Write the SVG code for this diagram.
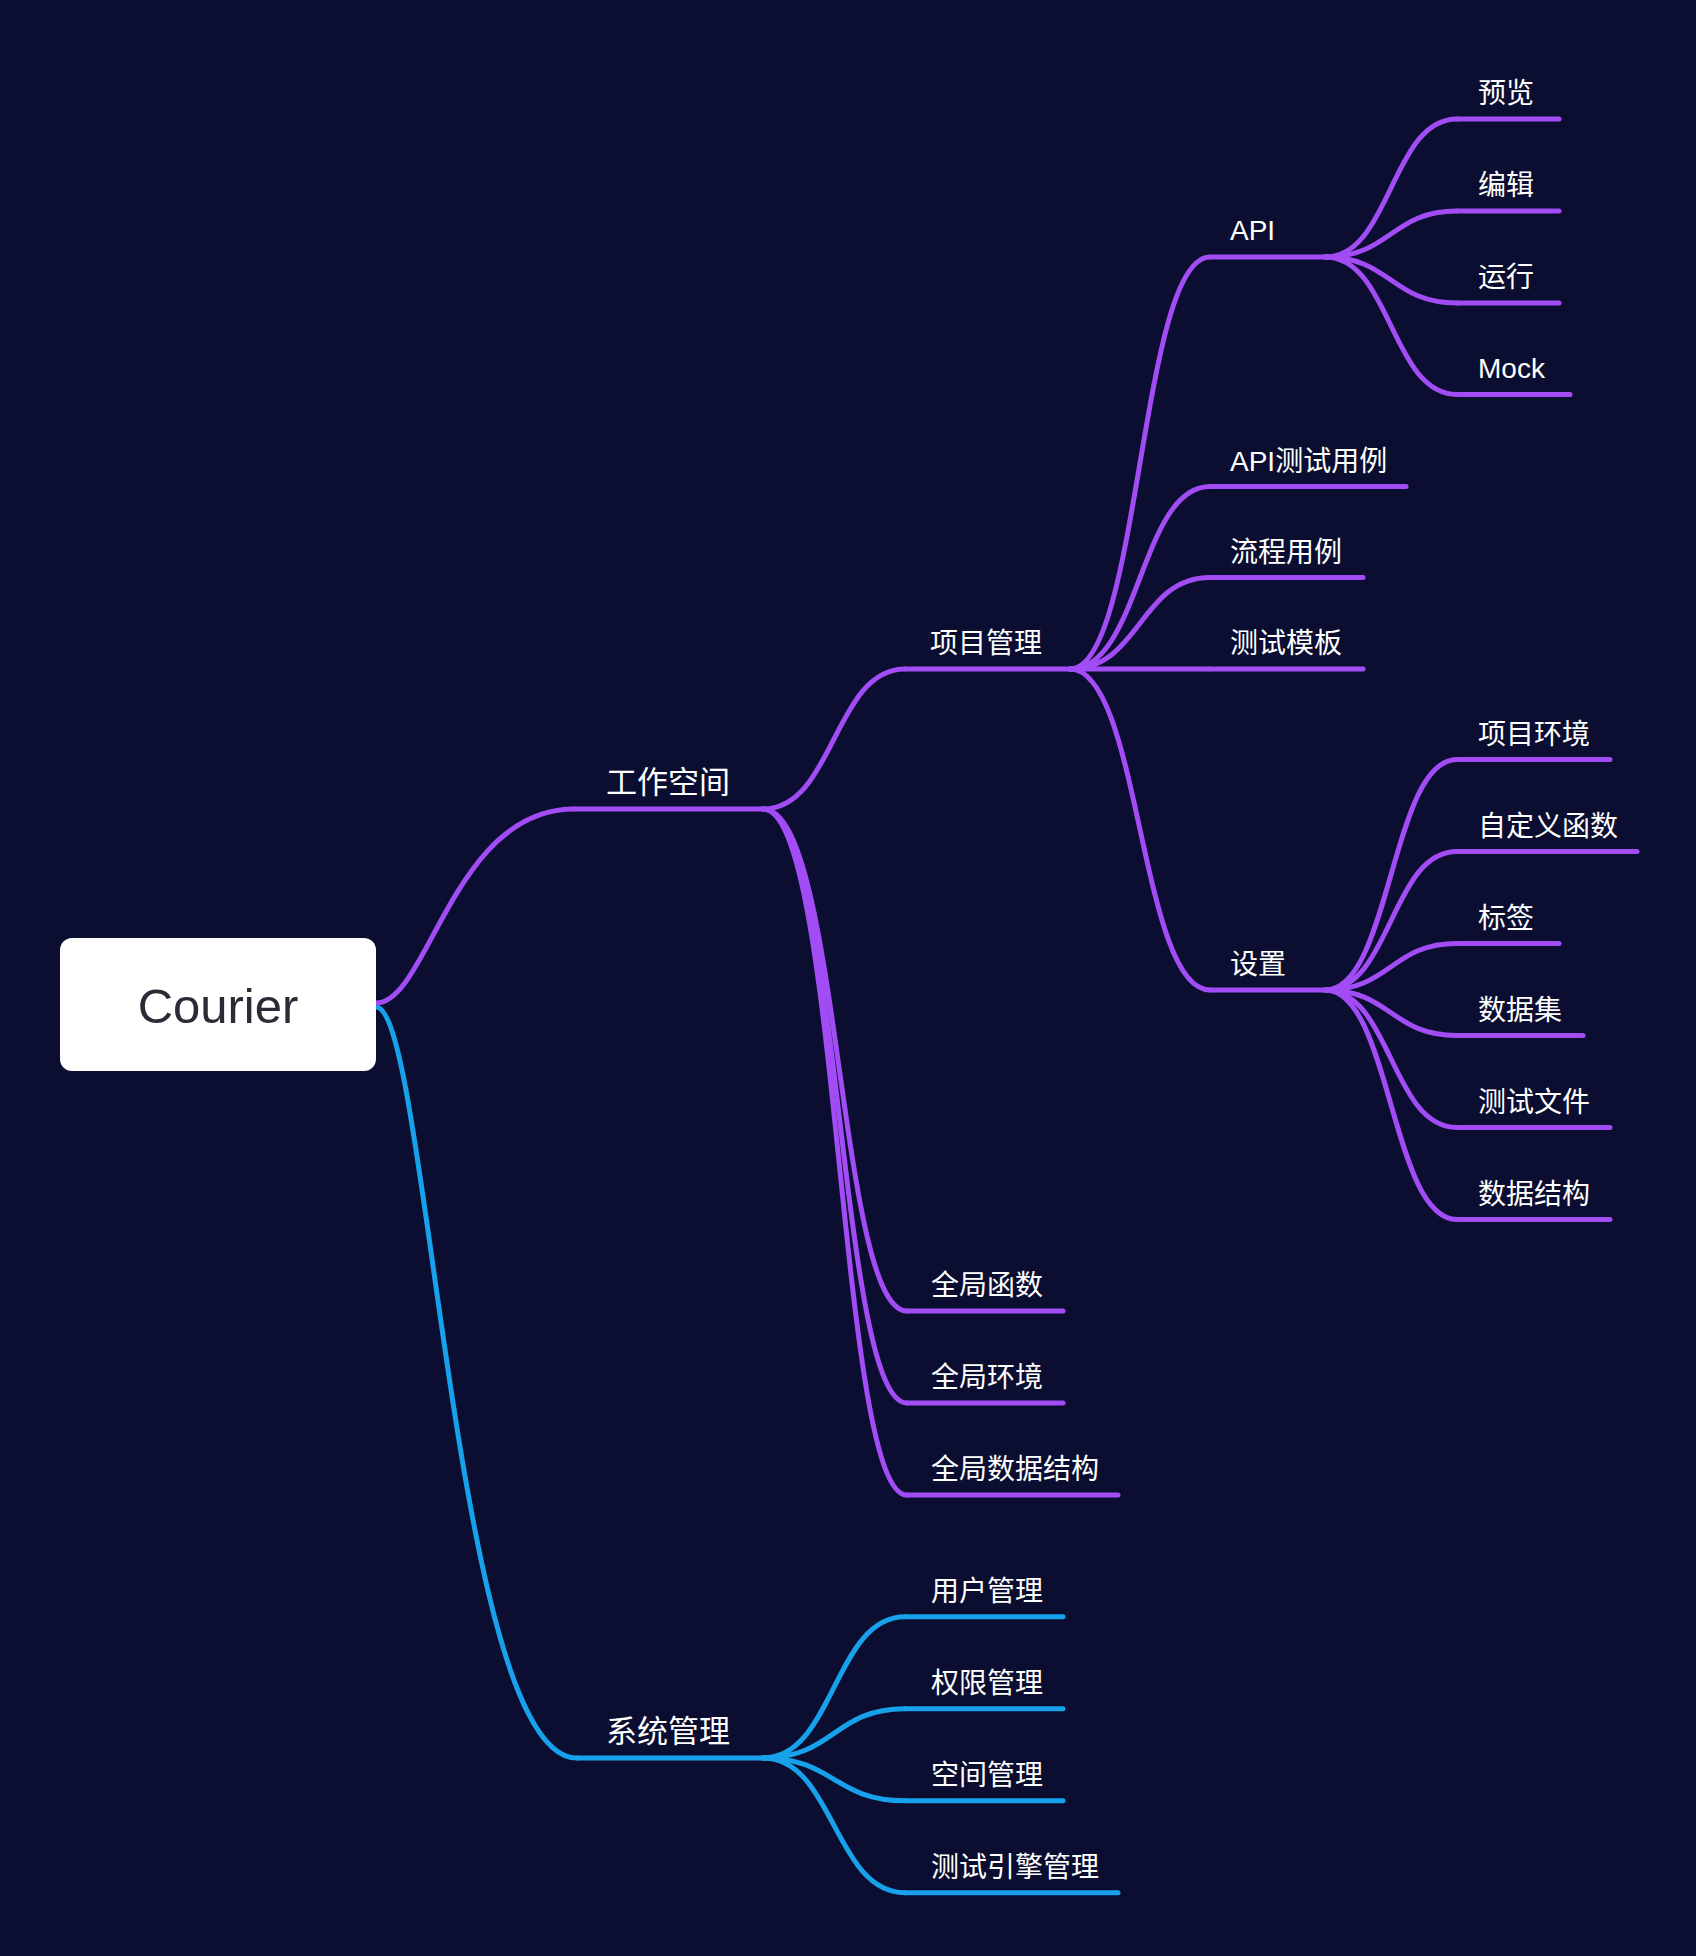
<svg xmlns="http://www.w3.org/2000/svg" width="1696" height="1956" viewBox="0 0 1696 1956">
<style>
.bg{fill:#0b0e30}
.c{fill:none;stroke-width:5;stroke-linecap:round}
.p{stroke:#a14cf4}
.b{stroke:#16a1ea}
.u{stroke-width:5;stroke-linecap:round}
.t{fill:#ffffff;font-family:"Liberation Sans","Noto Sans CJK SC",sans-serif;font-size:28px}
.t1{font-size:31px}
.root{fill:#2a2b36;font-family:"Liberation Sans","Noto Sans CJK SC",sans-serif;font-size:49px}
</style>
<rect class="bg" x="0" y="0" width="1696" height="1956"/>
<g id="connectors">
<path class="c b" d="M376,1007 C428,1007 454,1758 577,1758"/>
<path class="c p" d="M376,1003 C428,1003 453,809 574,809"/>
<path class="c p" d="M763,809 C834,809 834,669 905,669"/>
<path class="c p" d="M763,809 C840,809 838,1311 907,1311"/>
<path class="c p" d="M763,809 C840,809 838,1403 907,1403"/>
<path class="c p" d="M763,809 C840,809 838,1495 907,1495"/>
<path class="c p" d="M1070,669 C1140,669 1140,257 1210,257"/>
<path class="c p" d="M1070,669 C1140,669 1140,486.5 1210,486.5"/>
<path class="c p" d="M1070,669 C1140,669 1140,577.5 1210,577.5"/>
<path class="c p" d="M1070,669 L1210,669"/>
<path class="c p" d="M1070,669 C1140,669 1140,990 1210,990"/>
<path class="c p" d="M1325,257 C1391,257 1391,119 1457,119"/>
<path class="c p" d="M1325,257 C1391,257 1391,211 1457,211"/>
<path class="c p" d="M1325,257 C1391,257 1391,303 1457,303"/>
<path class="c p" d="M1325,257 C1391,257 1391,394.5 1457,394.5"/>
<path class="c p" d="M1325,990 C1391,990 1391,759.5 1457,759.5"/>
<path class="c p" d="M1325,990 C1391,990 1391,851.5 1457,851.5"/>
<path class="c p" d="M1325,990 C1391,990 1391,943.5 1457,943.5"/>
<path class="c p" d="M1325,990 C1391,990 1391,1035.5 1457,1035.5"/>
<path class="c p" d="M1325,990 C1391,990 1391,1127.5 1457,1127.5"/>
<path class="c p" d="M1325,990 C1391,990 1391,1219.5 1457,1219.5"/>
<path class="c b" d="M763,1758 C834,1758 834,1616.7 905,1616.7"/>
<path class="c b" d="M763,1758 C834,1758 834,1708.7 905,1708.7"/>
<path class="c b" d="M763,1758 C834,1758 834,1800.7 905,1800.7"/>
<path class="c b" d="M763,1758 C834,1758 834,1892.7 905,1892.7"/>
</g>
<g id="node-root">
<rect x="60" y="938" width="316" height="133" rx="12" ry="12" fill="#ffffff"/>
<text class="root" x="218" y="1023" text-anchor="middle">Courier</text>
</g>
<g id="node-workspace"><line class="u p" x1="574" y1="809" x2="763" y2="809"/><text class="t t1" x="606" y="793">工作空间</text></g>
<g id="node-system"><line class="u b" x1="577" y1="1758" x2="763" y2="1758"/><text class="t t1" x="606" y="1742">系统管理</text></g>
<g id="node-project"><line class="u p" x1="905" y1="669" x2="1070" y2="669"/><text class="t" x="930" y="653">项目管理</text></g>
<g id="node-gfunc"><line class="u p" x1="907" y1="1311" x2="1063" y2="1311"/><text class="t" x="931" y="1295">全局函数</text></g>
<g id="node-genv"><line class="u p" x1="907" y1="1403" x2="1063" y2="1403"/><text class="t" x="931" y="1387">全局环境</text></g>
<g id="node-gds"><line class="u p" x1="907" y1="1495" x2="1118" y2="1495"/><text class="t" x="931" y="1479">全局数据结构</text></g>
<g id="node-api"><line class="u p" x1="1210" y1="257" x2="1325" y2="257"/><text class="t" x="1230" y="240">API</text></g>
<g id="node-apicase"><line class="u p" x1="1210" y1="486.5" x2="1406" y2="486.5"/><text class="t" x="1230" y="470.5">API测试用例</text></g>
<g id="node-flow"><line class="u p" x1="1210" y1="577.5" x2="1363" y2="577.5"/><text class="t" x="1230" y="561.5">流程用例</text></g>
<g id="node-template"><line class="u p" x1="1210" y1="669" x2="1363" y2="669"/><text class="t" x="1230" y="653">测试模板</text></g>
<g id="node-settings"><line class="u p" x1="1210" y1="990" x2="1325" y2="990"/><text class="t" x="1230" y="974">设置</text></g>
<g id="node-preview"><line class="u p" x1="1457" y1="119" x2="1559" y2="119"/><text class="t" x="1478" y="103">预览</text></g>
<g id="node-edit"><line class="u p" x1="1457" y1="211" x2="1559" y2="211"/><text class="t" x="1478" y="195">编辑</text></g>
<g id="node-run"><line class="u p" x1="1457" y1="303" x2="1559" y2="303"/><text class="t" x="1478" y="287">运行</text></g>
<g id="node-mock"><line class="u p" x1="1457" y1="394.5" x2="1570" y2="394.5"/><text class="t" x="1478" y="377.5">Mock</text></g>
<g id="node-penv"><line class="u p" x1="1457" y1="759.5" x2="1610" y2="759.5"/><text class="t" x="1478" y="743.5">项目环境</text></g>
<g id="node-cfunc"><line class="u p" x1="1457" y1="851.5" x2="1637" y2="851.5"/><text class="t" x="1478" y="835.5">自定义函数</text></g>
<g id="node-tag"><line class="u p" x1="1457" y1="943.5" x2="1559" y2="943.5"/><text class="t" x="1478" y="927.5">标签</text></g>
<g id="node-dataset"><line class="u p" x1="1457" y1="1035.5" x2="1583" y2="1035.5"/><text class="t" x="1478" y="1019.5">数据集</text></g>
<g id="node-testfile"><line class="u p" x1="1457" y1="1127.5" x2="1610" y2="1127.5"/><text class="t" x="1478" y="1111.5">测试文件</text></g>
<g id="node-datastruct"><line class="u p" x1="1457" y1="1219.5" x2="1610" y2="1219.5"/><text class="t" x="1478" y="1203.5">数据结构</text></g>
<g id="node-user"><line class="u b" x1="905" y1="1616.7" x2="1063" y2="1616.7"/><text class="t" x="931" y="1600.7">用户管理</text></g>
<g id="node-perm"><line class="u b" x1="905" y1="1708.7" x2="1063" y2="1708.7"/><text class="t" x="931" y="1692.7">权限管理</text></g>
<g id="node-space"><line class="u b" x1="905" y1="1800.7" x2="1063" y2="1800.7"/><text class="t" x="931" y="1784.7">空间管理</text></g>
<g id="node-engine"><line class="u b" x1="905" y1="1892.7" x2="1118" y2="1892.7"/><text class="t" x="931" y="1876.7">测试引擎管理</text></g>
</svg>
